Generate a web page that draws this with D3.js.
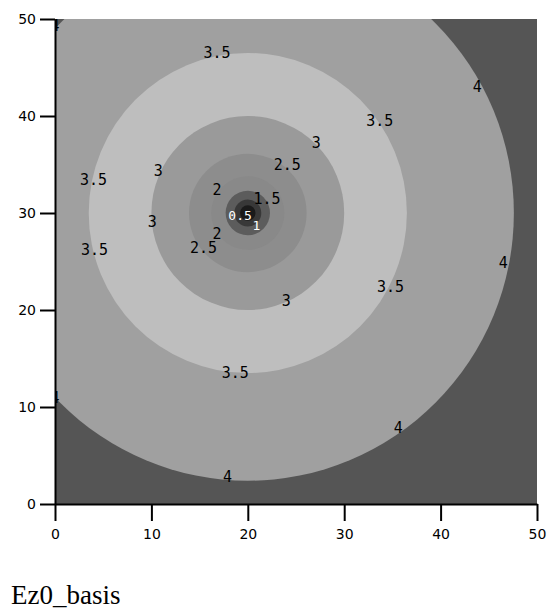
<!DOCTYPE html>
<html lang="en">
<head>
  <meta charset="utf-8">
  <script src="https://d3js.org/d3.v7.min.js"></script>
  <style>
    body { margin: 0; background: #fff; }
  </style>
</head>
<body>
<script>
// contour levels and the radius (in plot units) where each one sits
const levels = [0.5, 1, 1.5, 2, 2.5, 3, 3.5, 4];
const radii = [0.8, 1.4, 2.3, 3.8, 6.1, 10.0, 16.5, 27.6];
const center = [20, 30];

// label text and where it is drawn (plot units)
const labelText = ["3.5", "4", "3.5", "3", "2.5", "3", "3.5", "3.5", "3", "2", "2", "2.5",
                   "1.5", "0.5", "1", "3", "3.5", "4", "3.5", "4", "4", "4", "4"];
const labelX = [16.8, 43.8, 33.7, 27.1, 24.1, 10.7, 4.0, 4.1, 10.1, 16.8, 16.8, 15.4,
                22.0, 19.2, 20.9, 24.0, 34.8, 46.5, 18.7, 35.6, 17.9, 0, 0];
const labelY = [46.5, 43.0, 39.5, 37.2, 35.0, 34.4, 33.4, 26.2, 29.1, 32.4, 27.9, 26.4,
                31.5, 29.7, 28.7, 21.0, 22.4, 24.9, 13.5, 7.9, 2.8, 11.0, 49.3];

const xTicks = [0, 10, 20, 30, 40, 50];
const yTicks = [0, 10, 20, 30, 40, 50];

// band colours: inside each level, and beyond the last one
const bandColors = ["#1a1a1a", "#383838", "#5c5c5c", "#898989", "#8d8d8d", "#9a9a9a", "#bebebe", "#a0a0a0"];
const outerColor = "#555555";

const svg = d3.select("body").append("svg")
  .attr("width", 555)
  .attr("height", 612);

const x = d3.scaleLinear().domain([0, 50]).range([55, 537]);
const y = d3.scaleLinear().domain([0, 50]).range([504, 19]);

svg.append("clipPath").attr("id", "plotclip")
  .append("rect")
  .attr("x", x(0)).attr("y", y(50))
  .attr("width", x(50) - x(0)).attr("height", y(0) - y(50));

const plot = svg.append("g").attr("clip-path", "url(#plotclip)");

plot.append("rect")
  .attr("x", x(0)).attr("y", y(50))
  .attr("width", x(50) - x(0)).attr("height", y(0) - y(50))
  .attr("fill", outerColor);

// biggest circle first so the smaller ones sit on top
const rings = levels.map((v, i) => ({ v: v, r: radii[i], c: bandColors[i] })).reverse();
plot.selectAll("ellipse")
  .data(rings)
  .enter()
  .append("ellipse")
  .attr("cx", x(center[0]))
  .attr("cy", y(center[1]))
  .attr("rx", d => x(d.r) - x(0))
  .attr("ry", d => y(0) - y(d.r))
  .attr("fill", d => d.c);

const labels = labelText.map((t, i) => ({ t: t, x: labelX[i], y: labelY[i] }));
plot.selectAll("text.lab")
  .data(labels)
  .enter()
  .append("text")
  .attr("class", "lab")
  .attr("x", d => x(d.x))
  .attr("y", d => y(d.y))
  .attr("dy", "0.35em")
  .attr("text-anchor", "middle")
  .attr("font-family", "DejaVu Sans Mono, monospace")
  .attr("font-size", d => (+d.t < 1.5 ? 13 : 15))
  .attr("fill", d => (+d.t < 1.5 ? "#fff" : "#000"))
  .text(d => d.t);

// axes
const xAxis = svg.append("g")
  .attr("transform", "translate(0," + y(0) + ")")
  .call(d3.axisBottom(x).tickValues(xTicks).tickSize(17).tickSizeOuter(0).tickPadding(8));
const yAxis = svg.append("g")
  .attr("transform", "translate(" + x(0) + ",0)")
  .call(d3.axisLeft(y).tickValues(yTicks).tickSize(15).tickSizeOuter(0).tickPadding(4));

[xAxis, yAxis].forEach(a => {
  a.select(".domain").attr("stroke", "#000").attr("stroke-width", 2);
  a.selectAll(".tick line").attr("stroke", "#000").attr("stroke-width", 2);
  a.selectAll(".tick text")
    .attr("fill", "#000")
    .attr("font-family", "DejaVu Sans, sans-serif")
    .attr("font-size", 14);
});

svg.append("text")
  .attr("x", 11)
  .attr("y", 604)
  .attr("font-family", "Liberation Serif, Times New Roman, serif")
  .attr("font-size", 27)
  .attr("fill", "#000")
  .text("Ez0_basis");
</script>
</body>
</html>
